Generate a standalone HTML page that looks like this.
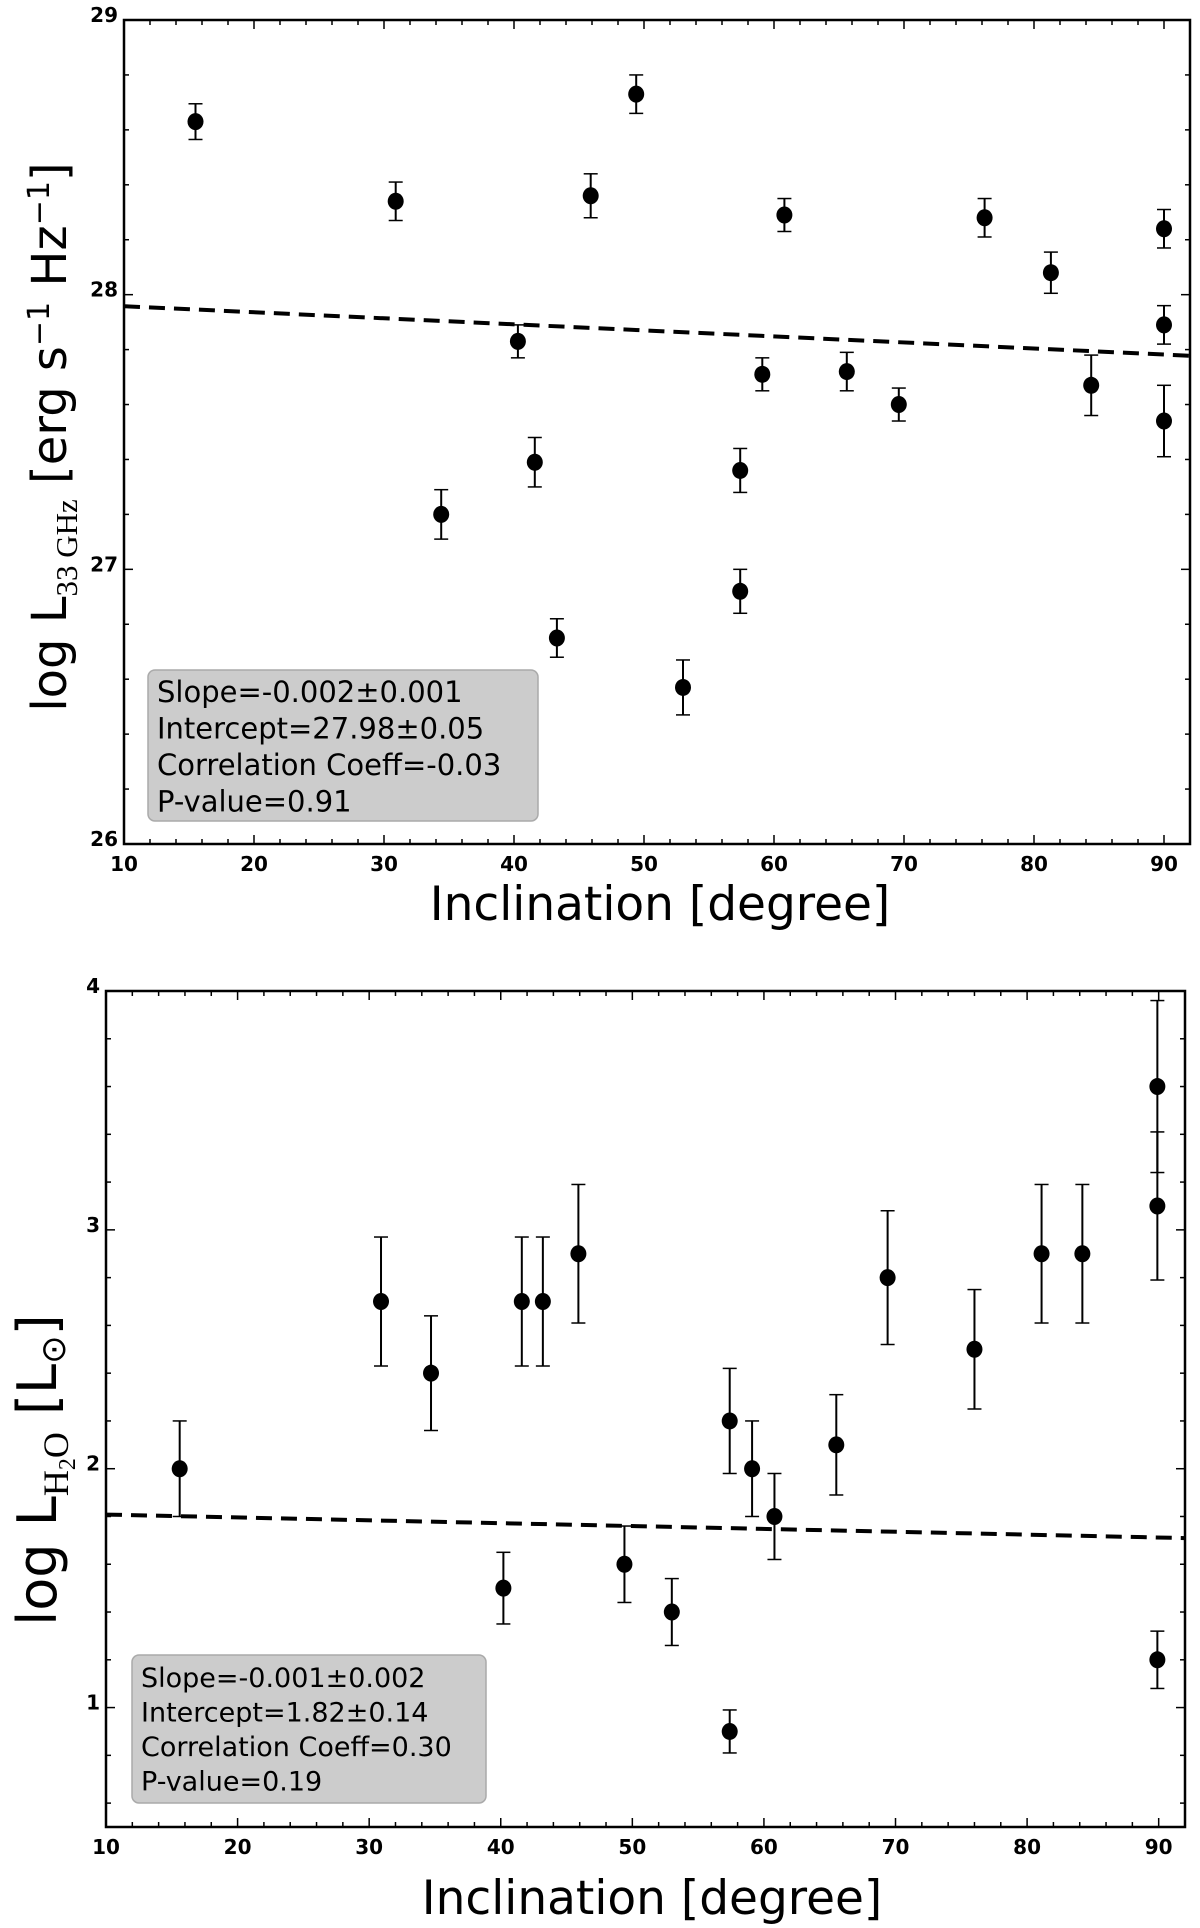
<!DOCTYPE html>
<html><head><meta charset="utf-8"><style>
body{margin:0;background:#fff;width:1200px;height:1928px;overflow:hidden}
svg{display:block}
text{font-family:"DejaVu Sans","Liberation Sans",sans-serif;fill:#000}
</style></head><body>
<svg id="chart" width="1200" height="1928" viewBox="0 0 1200 1928" xmlns="http://www.w3.org/2000/svg"></svg>
<script>
// top panel data
const incTop = [15.5,30.9,34.4,40.3,41.6,43.3,45.9,49.4,53.0,57.4,57.4,59.1,60.8,65.6,69.6,76.2,81.3,84.4,90,90,90];
const lumTop = [28.63,28.34,27.2,27.83,27.39,26.75,28.36,28.73,26.57,27.36,26.92,27.71,28.29,27.72,27.6,28.28,28.08,27.67,28.24,27.89,27.54];
const errTop = [0.065,0.07,0.09,0.06,0.09,0.07,0.08,0.07,0.1,0.08,0.08,0.06,0.06,0.07,0.06,0.07,0.075,0.11,0.07,0.07,0.13];
const fitTop = [27.98,-0.0022];
const statsTop = ["Slope=-0.002\u00B10.001","Intercept=27.98\u00B10.05","Correlation Coeff=-0.03","P-value=0.91"];
const yTicksTop = [26,27,28,29];
// bottom panel data
const incBot = [15.6,30.9,34.7,40.2,41.6,43.2,45.9,49.4,53.0,57.4,57.4,59.1,60.8,65.5,69.4,76.0,81.1,84.2,89.9,89.9,89.9];
const lumBot = [2.0,2.7,2.4,1.5,2.7,2.7,2.9,1.6,1.4,2.2,0.9,2.0,1.8,2.1,2.8,2.5,2.9,2.9,3.6,3.1,1.2];
const errBot = [0.2,0.27,0.24,0.15,0.27,0.27,0.29,0.16,0.14,0.22,0.09,0.2,0.18,0.21,0.28,0.25,0.29,0.29,0.36,0.31,0.12];
const fitBot = [1.82,-0.0012];
const statsBot = ["Slope=-0.001\u00B10.002","Intercept=1.82\u00B10.14","Correlation Coeff=0.30","P-value=0.19"];
const yTicksBot = [1,2,3,4];
const xTicks = [10,20,30,40,50,60,70,80,90];

const NS="http://www.w3.org/2000/svg";
const svg=document.getElementById('chart');
function mk(tag,attrs,parent){const e=document.createElementNS(NS,tag);for(const k in attrs)e.setAttribute(k,attrs[k]);(parent||svg).appendChild(e);return e;}

function panel(o){
  const g=mk('g',{});
  
  
  const xs=v=>o.L+(v-o.x0)/(o.x1-o.x0)*(o.R-o.L);
  const ys=v=>o.B-(v-o.y0)/(o.y1-o.y0)*(o.B-o.T);
  for(let v=10;v<=o.x1;v+=2){
    const major=(v%10===0), len=major?9:5, x=xs(v);
    const t1=mk('line',{x1:x,x2:x,y1:o.B,y2:o.B-len,stroke:'#000','stroke-width':1.5},g);
    
    
    mk('line',{x1:x,x2:x,y1:o.T,y2:o.T+len,stroke:'#000','stroke-width':1.5},g);
  }
  xTicks.forEach(v=>{
    const t=mk('text',{x:xs(v),y:o.B+27,'text-anchor':'middle','font-size':20,'font-weight':600},g);
    t.textContent=v;
    
    
  });
  for(let k=Math.round(o.y0*5);k<=Math.round(o.y1*5);k++){
    const v=k/5, major=(k%5===0), len=major?9:5, y=ys(v);
    const t1=mk('line',{x1:o.L,x2:o.L+len,y1:y,y2:y,stroke:'#000','stroke-width':1.5},g);
    
    
    mk('line',{x1:o.R,x2:o.R-len,y1:y,y2:y,stroke:'#000','stroke-width':1.5},g);
  }
  o.yTicks.forEach(v=>{
    const t=mk('text',{x:o.L-6,y:ys(v)+2,'text-anchor':'end','font-size':20,'font-weight':600},g);
    t.textContent=v;
    
    
  });
  const fl=mk('line',{x1:o.L,x2:o.R,y1:ys(o.fit[0]+o.fit[1]*o.x0),y2:ys(o.fit[0]+o.fit[1]*o.x1),stroke:'#000','stroke-width':4,'stroke-dasharray':'16,9'},g);
  
  
  o.xv.forEach((xv,i)=>{
    const x=xs(xv), y=ys(o.yv[i]), yt=ys(o.yv[i]+o.ev[i]), yb=ys(o.yv[i]-o.ev[i]);
    const pg=mk('g',{},g);
    
    
    mk('line',{x1:x,x2:x,y1:yt,y2:yb,stroke:'#000','stroke-width':2},pg);
    mk('line',{x1:x-7,x2:x+7,y1:yt,y2:yt,stroke:'#000','stroke-width':1.5},pg);
    mk('line',{x1:x-7,x2:x+7,y1:yb,y2:yb,stroke:'#000','stroke-width':1.5},pg);
    mk('ellipse',{cx:x,cy:y,rx:8,ry:8.5,fill:'#000'},pg);
  });
  const fr=mk('rect',{x:o.L,y:o.T,width:o.R-o.L,height:o.B-o.T,fill:'none',stroke:'#000','stroke-width':2.5},g);
  
  
  const bg=mk('g',{},g);
  
  
  mk('rect',{x:o.box[0],y:o.box[1],width:o.box[2],height:o.box[3],rx:7,fill:'#cccccc',stroke:'#aaaaaa','stroke-width':1.5},bg);
  o.stats.forEach((s,i)=>{
    const t=mk('text',{x:o.box[0]+9,y:o.box[1]+32+i*o.lh,'font-size':o.fs},bg);
    t.textContent=s;
    
    
  });
  const xt=mk('text',{x:o.xl[0],y:o.xl[1],'text-anchor':'middle','font-size':47,'font-family':'"DejaVu Sans Condensed","DejaVu Sans",sans-serif'},g);
  xt.textContent='Inclination [degree]';
  
  
  const yt=mk('text',{x:0,y:0,'text-anchor':'middle','font-size':o.yfs,transform:`translate(${o.yl[0]},${o.yl[1]}) rotate(-90)`},g);
  yt.innerHTML=o.ylab;
  
  
}

panel({name:'panel-33ghz',L:124,R:1190,T:20,B:844,x0:10,x1:92,y0:26,y1:29,yTicks:yTicksTop,
  xv:incTop,yv:lumTop,ev:errTop,fit:fitTop,stats:statsTop,box:[148,670,390,151],lh:36.5,fs:29,
  xl:[660,920],yl:[66,437],yfs:48,
  ylab:'log L<tspan font-size="31" dy="11" font-family="Liberation Serif, serif">33 GHz</tspan><tspan dy="-11"> [erg s</tspan><tspan font-size="30" dy="-17">−1</tspan><tspan dy="17"> Hz</tspan><tspan font-size="30" dy="-17">−1</tspan><tspan dy="17">]</tspan>'});
panel({name:'panel-h2o',L:106,R:1185,T:991,B:1827,x0:10,x1:92,y0:0.5,y1:4,yTicks:yTicksBot,
  xv:incBot,yv:lumBot,ev:errBot,fit:fitBot,stats:statsBot,box:[132,1655,354,148],lh:34.5,fs:27,
  xl:[652,1914],yl:[56,1470],yfs:54,
  ylab:'log L<tspan font-size="36" dy="12" font-family="Liberation Serif, serif">H<tspan font-size="24" dy="7">2</tspan><tspan dy="-7">O</tspan></tspan><tspan dy="-12"> [L</tspan><tspan font-size="34" dy="9">⊙</tspan><tspan dy="-9">]</tspan>'});
</script>
</body></html>
